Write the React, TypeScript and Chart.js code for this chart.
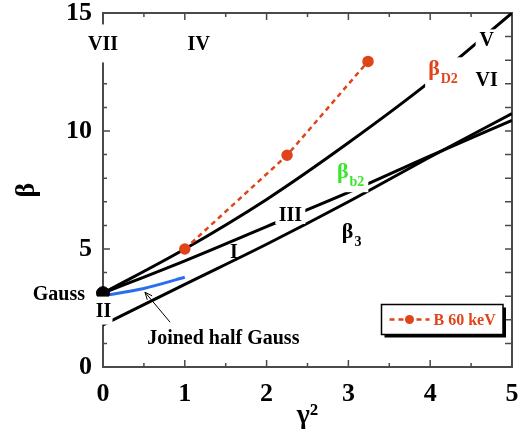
import { useEffect, useRef } from "react";
import { Chart, registerables } from "chart.js";

Chart.register(...registerables);

const FONT = '"Liberation Serif", "Times New Roman", serif';
const RED = "#e0441a";
const GREEN = "#3ae62a";
const BLUE = "#2a6ef0";
const AXIS = "#4a4a4a";

// tick labels
const xTicks = [0, 1, 2, 3, 4, 5];
const yTicks = [0, 5, 10, 15];

// series
const gaussX = [0];
const gaussY = [3.13];

const upperX = [0, 1, 2, 3, 4, 5];
const upperY = [3.13, 5.0, 7.1, 9.5, 12.1, 15.0];

const middleX = [0, 1, 2, 3, 4, 5];
const middleY = [3.13, 4.5, 5.95, 7.4, 8.95, 10.45];

const lowerX = [0, 1, 2, 3, 4, 5];
const lowerY = [1.78, 3.5, 5.2, 7.0, 8.9, 10.74];

const halfGaussX = [0, 0.5, 1];
const halfGaussY = [3.02, 3.33, 3.8];

const b60X = [1, 2.25, 3.24];
const b60Y = [5.0, 8.97, 12.95];
const b60Label = "B 60 keV";

// text annotations (data coordinates)
const plainLabels = [
  { text: "VII", x: 0, y: 13.71, align: "center", box: [17, 19] },
  { text: "IV", x: 1.17, y: 13.71, align: "center", box: null },
  { text: "V", x: 4.69, y: 13.88, align: "center", box: [11, 10] },
  { text: "VI", x: 4.69, y: 12.15, align: "center", box: null },
  { text: "III", x: 2.29, y: 6.44, align: "center", box: [15, 9] },
  { text: "I", x: 1.6, y: 4.89, align: "center", box: null },
  { text: "Gauss", x: -0.22, y: 3.11, align: "right", box: null },
  { text: "II", x: 0.006, y: 2.39, align: "center", box: [9, 14] },
  { text: "Joined half Gauss", x: 0.54, y: 1.25, align: "left", box: null },
];

const greekLabels = [
  { main: "β", sub: "D2", x: 3.975, y: 12.36, color: RED, box: true },
  { main: "β", sub: "b2", x: 2.86, y: 8.0, color: GREEN, box: true },
  { main: "β", sub: "3", x: 2.92, y: 5.48, color: "#000", box: false },
];

const arrowFrom = [0.82, 1.9];
const arrowTo = [0.513, 3.17];

const pts = (xs: number[], ys: number[]) => xs.map((x, i) => ({ x, y: ys[i] }));

const framePlugin = {
  id: "frame",
  beforeDatasetsDraw(chart: any) {
    const { ctx, chartArea: a, scales } = chart;
    const x = scales.x;
    const y = scales.y;
    ctx.save();
    ctx.strokeStyle = AXIS;
    ctx.lineWidth = 2;
    ctx.strokeRect(a.left, a.top, a.right - a.left, a.bottom - a.top);
    ctx.lineWidth = 1.5;
    ctx.beginPath();
    for (let i = 0; i <= 10; i++) {
      const v = i * 0.5;
      const px = x.getPixelForValue(v);
      const len = i % 2 === 0 ? 7 : 4;
      ctx.moveTo(px, a.bottom);
      ctx.lineTo(px, a.bottom - len);
      ctx.moveTo(px, a.top);
      ctx.lineTo(px, a.top + len);
    }
    for (let v = 0; v <= 15; v++) {
      const py = y.getPixelForValue(v);
      const len = v % 5 === 0 ? 7 : 4;
      ctx.moveTo(a.left, py);
      ctx.lineTo(a.left + len, py);
      ctx.moveTo(a.right, py);
      ctx.lineTo(a.right - 7, py);
    }
    ctx.stroke();
    ctx.restore();
  },
};

const labelPlugin = {
  id: "labels",
  afterDatasetsDraw(chart: any) {
    const { ctx, scales } = chart;
    const x = scales.x;
    const y = scales.y;
    ctx.save();
    ctx.textBaseline = "middle";
    ctx.font = `bold 20px ${FONT}`;
    for (const l of plainLabels) {
      const px = x.getPixelForValue(l.x);
      const py = y.getPixelForValue(l.y);
      if (l.box) {
        ctx.fillStyle = "#fff";
        ctx.fillRect(px - l.box[0], py - l.box[1], l.box[0] * 2, l.box[1] * 2);
      }
      ctx.fillStyle = "#000";
      ctx.textAlign = l.align as CanvasTextAlign;
      ctx.fillText(l.text, px, py + 1);
    }
    ctx.textAlign = "left";
    ctx.textBaseline = "alphabetic";
    for (const g of greekLabels) {
      const px = x.getPixelForValue(g.x);
      const py = y.getPixelForValue(g.y);
      ctx.font = `bold 22px ${FONT}`;
      const w1 = ctx.measureText(g.main).width;
      ctx.font = `bold 14px ${FONT}`;
      const w2 = ctx.measureText(g.sub).width;
      if (g.box) {
        ctx.fillStyle = "#fff";
        ctx.fillRect(px - 3, py - 18, w1 + w2 + 8, 32);
      }
      ctx.fillStyle = g.color;
      ctx.font = `bold 22px ${FONT}`;
      ctx.fillText(g.main, px, py);
      ctx.font = `bold 14px ${FONT}`;
      ctx.fillText(g.sub, px + w1 + 1, py + 8);
    }
    // arrow
    const x0 = x.getPixelForValue(arrowFrom[0]);
    const y0 = y.getPixelForValue(arrowFrom[1]);
    const x1 = x.getPixelForValue(arrowTo[0]);
    const y1 = y.getPixelForValue(arrowTo[1]);
    const ang = Math.atan2(y1 - y0, x1 - x0);
    ctx.strokeStyle = "#000";
    ctx.lineWidth = 1;
    ctx.beginPath();
    ctx.moveTo(x0, y0);
    ctx.lineTo(x1, y1);
    ctx.moveTo(x1, y1);
    ctx.lineTo(x1 - 8 * Math.cos(ang - 0.4), y1 - 8 * Math.sin(ang - 0.4));
    ctx.moveTo(x1, y1);
    ctx.lineTo(x1 - 8 * Math.cos(ang + 0.4), y1 - 8 * Math.sin(ang + 0.4));
    ctx.stroke();

    // legend
    const a = chart.chartArea;
    const ds = chart.data.datasets.find((d: any) => d.label === b60Label);
    const lx = a.right - 130.5;
    const ly = a.top + 291.5;
    const lw = 121.5;
    const lh = 30;
    ctx.fillStyle = "#000";
    ctx.fillRect(lx + 3, ly + 3, lw, lh);
    ctx.fillStyle = "#fff";
    ctx.fillRect(lx, ly, lw, lh);
    ctx.strokeStyle = "#000";
    ctx.lineWidth = 1.5;
    ctx.strokeRect(lx, ly, lw, lh);
    const cy = ly + 15;
    ctx.strokeStyle = ds.borderColor;
    ctx.lineWidth = 2.5;
    ctx.setLineDash(ds.borderDash);
    ctx.beginPath();
    ctx.moveTo(lx + 8, cy);
    ctx.lineTo(lx + 48, cy);
    ctx.stroke();
    ctx.setLineDash([]);
    ctx.fillStyle = ds.pointBackgroundColor;
    ctx.beginPath();
    ctx.arc(lx + 28, cy, 4.5, 0, Math.PI * 2);
    ctx.fill();
    ctx.font = `bold 16px ${FONT}`;
    ctx.textBaseline = "middle";
    ctx.fillText(ds.label, lx + 52, cy + 1);
    ctx.restore();
  },
};

export default function App() {
  const ref = useRef<HTMLCanvasElement>(null);
  useEffect(() => {
    if (!ref.current) return;
    const black = {
      borderColor: "#000",
      borderWidth: 3,
      pointRadius: 0,
      tension: 0.4,
      cubicInterpolationMode: "monotone",
      fill: false,
    };
    const chart = new Chart(ref.current, {
      type: "scatter",
      data: {
        datasets: [
          {
            label: "Gauss",
            data: pts(gaussX, gaussY),
            pointRadius: 6.5,
            pointBackgroundColor: "#000",
            pointBorderColor: "#000",
            showLine: false,
            clip: false,
          } as any,
          {
            label: b60Label,
            data: pts(b60X, b60Y),
            showLine: true,
            borderColor: RED,
            borderWidth: 2.5,
            borderDash: [5, 4],
            pointRadius: 4.5,
            pointBackgroundColor: RED,
            pointBorderColor: RED,
          },
          {
            label: "Joined half Gauss",
            data: pts(halfGaussX, halfGaussY),
            showLine: true,
            borderColor: BLUE,
            borderWidth: 3,
            pointRadius: 0,
            cubicInterpolationMode: "monotone",
          } as any,
          { label: "upper", data: pts(upperX, upperY), showLine: true, ...black } as any,
          { label: "middle", data: pts(middleX, middleY), showLine: true, ...black } as any,
          { label: "lower", data: pts(lowerX, lowerY), showLine: true, ...black } as any,
        ],
      },
      options: {
        animation: false,
        responsive: false,
        layout: { padding: { left: 0, top: 13, right: 17, bottom: 0 } },
        plugins: { legend: { display: false }, tooltip: { enabled: false } },
        scales: {
          x: {
            type: "linear",
            min: 0,
            max: 5,
            grid: { display: false, drawTicks: false },
            border: { display: false },
            ticks: {
              color: "#000",
              padding: 12,
              font: { family: FONT, size: 26, weight: "bold" },
            },
            afterBuildTicks: (s: any) => {
              s.ticks = xTicks.map((v) => ({ value: v }));
            },
            afterFit: (s: any) => {
              s.height = 69;
              s.paddingLeft = 0;
              s.paddingRight = 0;
            },
            title: {
              display: true,
              text: "γ²",
              color: "#000",
              padding: { top: 0, bottom: 3 },
              font: { family: FONT, size: 28, weight: "bold" },
            },
          },
          y: {
            type: "linear",
            min: 0,
            max: 15,
            grid: { display: false, drawTicks: false },
            border: { display: false },
            ticks: {
              color: "#000",
              padding: 11,
              font: { family: FONT, size: 26, weight: "bold" },
            },
            afterBuildTicks: (s: any) => {
              s.ticks = yTicks.map((v) => ({ value: v }));
            },
            afterFit: (s: any) => {
              s.width = 103;
              s.paddingTop = 0;
              s.paddingBottom = 0;
            },
            title: {
              display: true,
              text: "β",
              color: "#000",
              padding: { top: 10, bottom: 0 },
              font: { family: FONT, size: 28, weight: "bold" },
            },
          },
        },
      } as any,
      plugins: [framePlugin, labelPlugin],
    });
    return () => chart.destroy();
  }, []);
  return (
    <div style={{ position: "fixed", left: 0, top: 0, width: 529, height: 436, background: "#fff" }}>
      <canvas ref={ref} width={529} height={436} />
    </div>
  );
}
